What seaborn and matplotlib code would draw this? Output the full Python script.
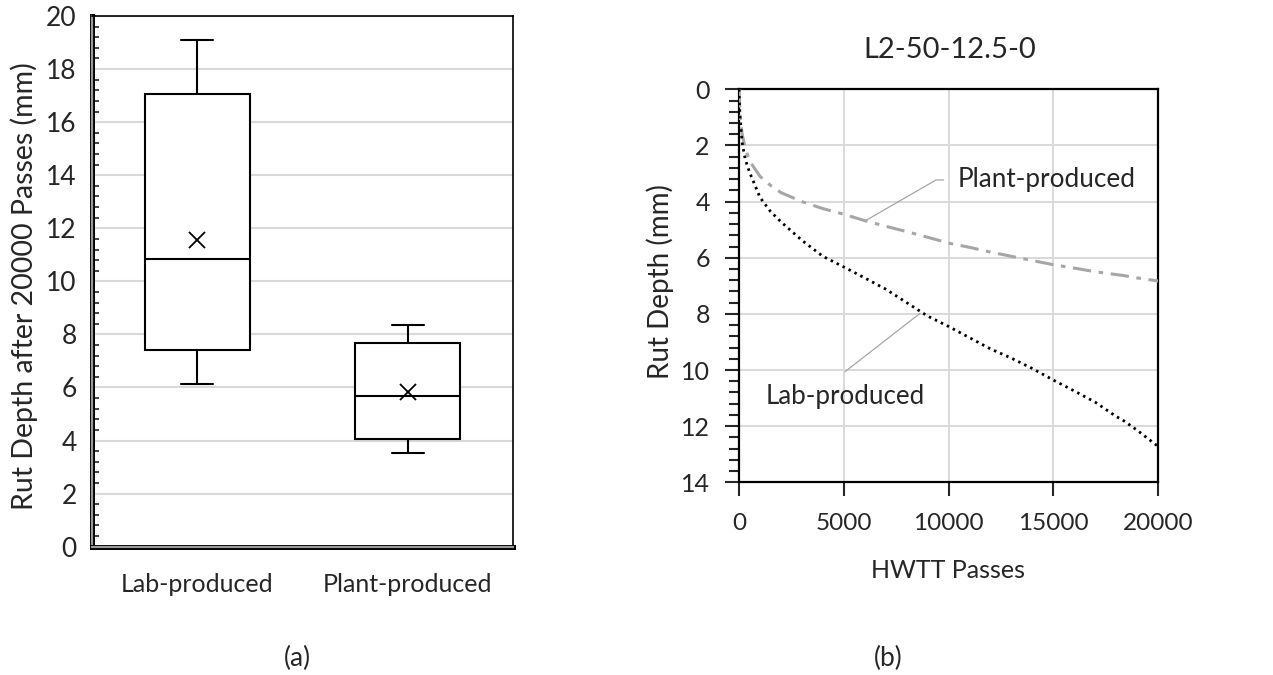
import numpy as np
import matplotlib
matplotlib.use("Agg")
import matplotlib.pyplot as plt
import matplotlib.patheffects as pe
from matplotlib.ticker import MultipleLocator
import seaborn as sns

# ---------------- data ----------------
groups = ["Lab-produced", "Plant-produced"]
whisker_low = [6.12, 3.54]
q1_vals = [7.40, 4.05]
median_vals = [10.85, 5.69]
q3_vals = [17.05, 7.68]
whisker_high = [19.08, 8.35]
mean_vals = [11.57, 5.82]

passes = [0, 50, 150, 300, 500, 1000, 1500, 2000, 3000, 4000, 5000, 6000, 7000,
          8000, 9000, 10000, 11000, 12000, 13000, 14000, 15000, 16000, 17000,
          18000, 18300, 19000, 20000]
lab_rut = [0.0, 1.0, 1.9, 2.5, 2.95, 3.85, 4.35, 4.72, 5.38, 5.95, 6.33, 6.72, 7.12,
           7.6, 8.08, 8.45, 8.85, 9.25, 9.58, 9.95, 10.36, 10.75, 11.15,
           11.66, 11.78, 12.15, 12.73]
plant_rut = [0.0, 0.9, 1.6, 2.1, 2.55, 3.1, 3.42, 3.68, 4.0, 4.25, 4.45, 4.68, 4.88,
             5.07, 5.27, 5.48, 5.63, 5.80, 5.95, 6.10, 6.25, 6.37, 6.50,
             6.60, 6.63, 6.72, 6.83]

panel_title = "L2-50-12.5-0"

# ---------------- style ----------------
sns.set_style("white")
plt.rcParams["font.family"] = ["Lato", "DejaVu Sans"]

W, H = 1273, 675
fig = plt.figure(figsize=(W / 100, H / 100), dpi=100)

def ax_rect(x0, y0, x1, y1):
    return [x0 / W, 1 - y1 / H, (x1 - x0) / W, (y1 - y0) / H]

# ---------------- left panel: box plot ----------------
ax1 = fig.add_axes(ax_rect(92, 16, 513, 546.7))
stats = []
for i, g in enumerate(groups):
    stats.append(dict(label=g, whislo=whisker_low[i], q1=q1_vals[i], med=median_vals[i],
                      q3=q3_vals[i], whishi=whisker_high[i], mean=mean_vals[i], fliers=[]))
lw = 1.5
ax1.bxp(stats, positions=[0, 1], widths=0.5, capwidths=0.15, showmeans=True,
        showfliers=False, patch_artist=True,
        boxprops=dict(facecolor="white", edgecolor="black", linewidth=lw),
        whiskerprops=dict(color="black", linewidth=lw),
        capprops=dict(color="black", linewidth=lw),
        medianprops=dict(color="black", linewidth=lw),
        meanprops=dict(marker="x", markeredgecolor="black", markerfacecolor="black",
                       markersize=11, markeredgewidth=1.3),
        zorder=3)
ax1.set_xlim(-0.5, 1.5)
ax1.set_ylim(0, 20)
ax1.yaxis.set_major_locator(MultipleLocator(2))
ax1.yaxis.set_minor_locator(MultipleLocator(0.4))
ax1.grid(axis="y", color="#d9d9d9", linewidth=1.5, zorder=0)
ax1.set_axisbelow(True)
ax1.tick_params(axis="y", which="major", direction="inout", length=10, width=1.2,
                labelsize=19, pad=6)
ax1.tick_params(axis="y", which="minor", direction="in", length=5, width=1.2, left=True)
ax1.tick_params(axis="x", length=0, labelsize=18, pad=19)
for s in ["top", "right"]:
    ax1.spines[s].set_color("black")
    ax1.spines[s].set_linewidth(1.2)
for s in ["left", "bottom"]:
    ax1.spines[s].set_color("#9a9a9a")
    ax1.spines[s].set_linewidth(1.6)
    ax1.spines[s].set_path_effects([pe.Stroke(linewidth=3.6, foreground="black"), pe.Normal()])
fig.text(24 / W, 1 - 286 / H, "Rut Depth after 20000 Passes (mm)", rotation=90,
         ha="center", va="center", fontsize=20.5)
fig.text(297 / W, 1 - 658 / H, "(a)", ha="center", va="center", fontsize=19)

# ---------------- right panel: rut curves ----------------
ax2 = fig.add_axes(ax_rect(739, 89.3, 1158.3, 482.3))
sns.lineplot(x=passes, y=plant_rut, ax=ax2, color="#a6a6a6", linewidth=2.2,
             linestyle=(0, (6, 2.5, 1.5, 2.5)), sort=False, estimator=None, zorder=3)
sns.lineplot(x=passes, y=lab_rut, ax=ax2, color="black", linewidth=2.0,
             linestyle=(0, (0.9, 1.5)), sort=False, estimator=None, zorder=4)
ax2.set_xlim(0, 20000)
ax2.set_ylim(14, 0)
ax2.xaxis.set_major_locator(MultipleLocator(5000))
ax2.yaxis.set_major_locator(MultipleLocator(2))
ax2.yaxis.set_minor_locator(MultipleLocator(0.4))
ax2.grid(True, which="major", color="#d9d9d9", linewidth=1.4, zorder=0)
ax2.set_axisbelow(True)
ax2.tick_params(axis="x", which="major", direction="out", length=10, width=1.5,
                bottom=True, labelsize=17.5, pad=12)
ax2.tick_params(axis="y", which="major", direction="out", length=10, width=1.5,
                left=True, labelsize=18, pad=11)
ax2.tick_params(axis="y", which="minor", direction="out", length=7, width=1.5, left=True)
for s in ax2.spines.values():
    s.set_color("black")
    s.set_linewidth(1.6)
ax2.set_xlabel("")
ax2.set_ylabel("")
ax2.set_title("")

ax2.annotate("Plant-produced", xy=(6011, 4.69), xytext=(10448, 3.23),
             ha="left", va="center", fontsize=18.8,
             arrowprops=dict(arrowstyle="-", color="#a6a6a6", lw=0.9, relpos=(0, 0.5),
                             shrinkA=8, shrinkB=0,
                             connectionstyle="angle,angleA=0,angleB=30,rad=0"))
ax2.annotate("", xy=(8636, 7.98), xytext=(5057, 10.06),
             arrowprops=dict(arrowstyle="-", color="#a6a6a6", lw=0.9, shrinkA=0, shrinkB=0))
ax2.text(1288, 10.96, "Lab-produced", ha="left", va="center", fontsize=18.6)

fig.text(950 / W, 1 - 50 / H, panel_title, ha="center", va="center", fontsize=21)
fig.text(948 / W, 1 - 570 / H, "HWTT Passes", ha="center", va="center", fontsize=18)
fig.text(660 / W, 1 - 282 / H, "Rut Depth (mm)", rotation=90, ha="center", va="center",
         fontsize=20)
fig.text(888 / W, 1 - 658 / H, "(b)", ha="center", va="center", fontsize=19)

fig.savefig("out.png", dpi=100, facecolor="white")
